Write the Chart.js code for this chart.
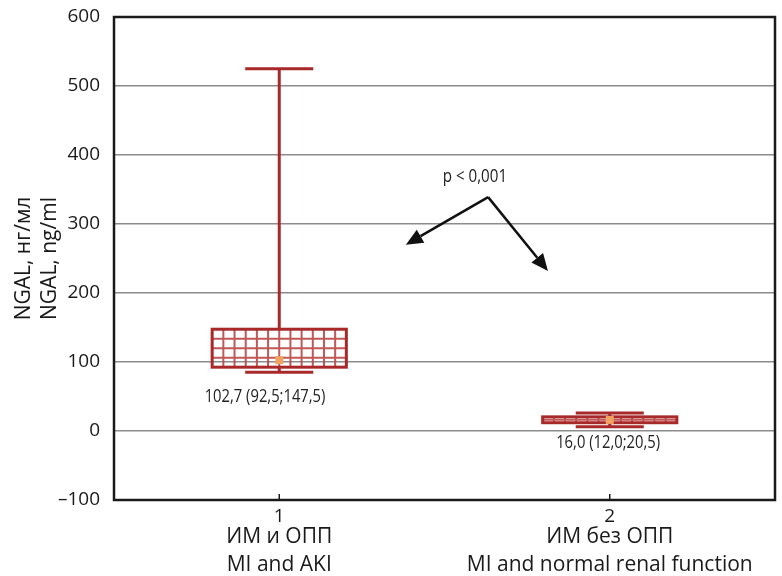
<!DOCTYPE html>
<html>
<head>
<meta charset="utf-8">
<script src="https://cdn.jsdelivr.net/npm/chart.js@4.4.1/dist/chart.umd.min.js"></script>
<style>
  html, body { margin: 0; padding: 0; background: #fff; }
  #wrap { width: 782px; height: 576px; }
</style>
</head>
<body>
<div id="wrap"><canvas id="myChart" width="782" height="576"></canvas></div>
<script>
// groups on the x axis
const groups = [1, 2];
const groupNames = [
  ['ИМ и ОПП', 'MI and AKI'],
  ['ИМ без ОПП', 'MI and normal renal function']
];
// box values, ng/ml
const medians = [102.7, 16.0];
const q1 = [92.5, 12.0];
const q3 = [147.5, 20.5];
const whiskerLow = [85, 6];
const whiskerHigh = [525, 26];
const boxLabels = ['102,7 (92,5;147,5)', '16,0 (12,0;20,5)'];
// label anchors in data units
const boxLabelX = [0.957, 1.995];
const boxLabelY = [49, -17];
const yTicks = [-100, 0, 100, 200, 300, 400, 500, 600];
const yTitle = ['NGAL, нг/мл', 'NGAL, ng/ml'];
// p-value note and its two arrows (data units)
const pText = 'p < 0,001';
const pTextAt = [1.592, 368];
const arrowFrom = [1.632, 339];
const arrowTo = [[1.383, 270], [1.813, 232]];

const red = '#a8292a';
const gridRed = 'rgba(185,70,70,0.9)';
const font = '"Open Sans", "Noto Sans", sans-serif';

function arrow(ctx, x0, y0, x1, y1) {
  const ang = Math.atan2(y1 - y0, x1 - x0);
  const len = 17, half = 7.5;
  const bx = x1 - len * Math.cos(ang), by = y1 - len * Math.sin(ang);
  ctx.beginPath();
  ctx.moveTo(x0, y0);
  ctx.lineTo(bx, by);
  ctx.stroke();
  ctx.beginPath();
  ctx.moveTo(x1, y1);
  ctx.lineTo(bx + half * Math.sin(ang), by - half * Math.cos(ang));
  ctx.lineTo(bx - half * Math.sin(ang), by + half * Math.cos(ang));
  ctx.closePath();
  ctx.fill();
}

function narrowText(ctx, text, x, y, squeeze) {
  ctx.save();
  ctx.translate(x, y);
  ctx.scale(squeeze, 1);
  ctx.fillText(text, 0, 0);
  ctx.restore();
}

const boxPlugin = {
  id: 'boxes',
  beforeDatasetsDraw(chart) {
    const { ctx, scales: { x, y } } = chart;
    ctx.save();
    groups.forEach((g, i) => {
      const cx = x.getPixelForValue(g);
      const left = x.getPixelForValue(g - 0.203);
      const right = x.getPixelForValue(g + 0.203);
      const top = y.getPixelForValue(q3[i]);
      const bot = y.getPixelForValue(q1[i]);
      const capL = x.getPixelForValue(g - 0.103);
      const capR = x.getPixelForValue(g + 0.103);
      const yHi = y.getPixelForValue(whiskerHigh[i]);
      const yLo = y.getPixelForValue(whiskerLow[i]);

      // whiskers
      ctx.strokeStyle = red;
      ctx.lineWidth = 3;
      ctx.beginPath();
      ctx.moveTo(cx, Math.min(yHi, top)); ctx.lineTo(cx, top);
      ctx.moveTo(cx, bot); ctx.lineTo(cx, Math.max(yLo, bot));
      ctx.stroke();

      // hatch grid inside the box
      const cols = 12;
      const rows = Math.max(2, Math.round((bot - top) / 9.5));
      ctx.strokeStyle = gridRed;
      ctx.lineWidth = 2;
      ctx.beginPath();
      for (let c = 1; c < cols; c++) {
        const px = left + (right - left) * c / cols;
        ctx.moveTo(px, top); ctx.lineTo(px, bot);
      }
      for (let r = 1; r < rows; r++) {
        const py = top + (bot - top) * r / rows;
        ctx.moveTo(left, py); ctx.lineTo(right, py);
      }
      ctx.stroke();

      // box outline
      ctx.strokeStyle = red;
      ctx.lineWidth = 3;
      ctx.strokeRect(left, top, right - left, bot - top);

      // caps
      ctx.beginPath();
      ctx.moveTo(capL, yHi); ctx.lineTo(capR, yHi);
      ctx.moveTo(capL, yLo); ctx.lineTo(capR, yLo);
      ctx.stroke();
    });
    ctx.restore();
  },
  afterDraw(chart) {
    const { ctx, chartArea: a, scales: { x, y } } = chart;
    ctx.save();
    // frame
    ctx.strokeStyle = '#1a1a1a';
    ctx.lineWidth = 2.5;
    ctx.strokeRect(a.left, a.top, a.right - a.left, a.bottom - a.top);
    // inward ticks on the x axis
    ctx.lineWidth = 1.5;
    ctx.beginPath();
    groups.forEach(g => {
      const px = x.getPixelForValue(g);
      ctx.moveTo(px, a.bottom); ctx.lineTo(px, a.bottom - 6);
    });
    ctx.stroke();

    ctx.textAlign = 'center';
    ctx.textBaseline = 'middle';

    // group names under the tick numbers
    ctx.fillStyle = '#1a1a1a';
    ctx.font = '21px ' + font;
    groups.forEach((g, i) => {
      const px = x.getPixelForValue(g);
      ctx.fillText(groupNames[i][0], px, a.bottom + 37);
      ctx.fillText(groupNames[i][1], px, a.bottom + 65);
    });

    // value notes
    ctx.fillStyle = '#222';
    ctx.font = '18px ' + font;
    boxLabels.forEach((t, i) => {
      narrowText(ctx, t, x.getPixelForValue(boxLabelX[i]), y.getPixelForValue(boxLabelY[i]), 0.82);
    });
    narrowText(ctx, pText, x.getPixelForValue(pTextAt[0]), y.getPixelForValue(pTextAt[1]), 0.84);

    // arrows
    ctx.strokeStyle = '#111';
    ctx.fillStyle = '#111';
    ctx.lineWidth = 2.5;
    const fx = x.getPixelForValue(arrowFrom[0]), fy = y.getPixelForValue(arrowFrom[1]);
    arrowTo.forEach(p => arrow(ctx, fx, fy, x.getPixelForValue(p[0]), y.getPixelForValue(p[1])));

    // y title, two rotated lines
    ctx.fillStyle = '#1a1a1a';
    ctx.font = '21px ' + font;
    ctx.translate(0, (a.top + a.bottom) / 2);
    ctx.rotate(-Math.PI / 2);
    ctx.fillText(yTitle[0], 0, 24);
    ctx.fillText(yTitle[1], 0, 50);
    ctx.restore();
  }
};

const ctx = document.getElementById('myChart');

new Chart(ctx, {
  type: 'scatter',
  data: {
    datasets: [{
      label: 'median',
      data: groups.map((g, i) => ({ x: g, y: medians[i] })),
      pointStyle: 'rect',
      pointRadius: 5.6,
      pointHoverRadius: 5.6,
      backgroundColor: '#f2a361',
      borderWidth: 0
    }]
  },
  options: {
    responsive: false,
    animation: false,
    devicePixelRatio: 1,
    layout: { padding: { top: 17, right: 7, left: 0, bottom: 0 }, autoPadding: false },
    plugins: { legend: { display: false }, tooltip: { enabled: false } },
    scales: {
      x: {
        type: 'linear',
        min: 0.5,
        max: 2.5,
        afterBuildTicks: scale => { scale.ticks = groups.map(v => ({ value: v })); },
        afterFit: scale => { scale.height = 76; },
        grid: { display: false, drawTicks: false },
        border: { display: false },
        ticks: {
          padding: 5,
          color: '#1a1a1a',
          font: { family: font, size: 19 },
          maxRotation: 0,
          callback: v => String(v)
        }
      },
      y: {
        min: -100,
        max: 600,
        afterBuildTicks: scale => { scale.ticks = yTicks.map(v => ({ value: v })); },
        afterFit: scale => { scale.width = 114; scale.paddingTop = 0; scale.paddingBottom = 0; },
        grid: { color: '#8c8c8c', lineWidth: 1.5, drawTicks: false },
        border: { display: false },
        ticks: {
          padding: 14,
          color: '#1a1a1a',
          font: { family: font, size: 19 },
          callback: v => (v < 0 ? '\u2013' + Math.abs(v) : String(v))
        }
      }
    }
  },
  plugins: [boxPlugin]
});
</script>
</body>
</html>
